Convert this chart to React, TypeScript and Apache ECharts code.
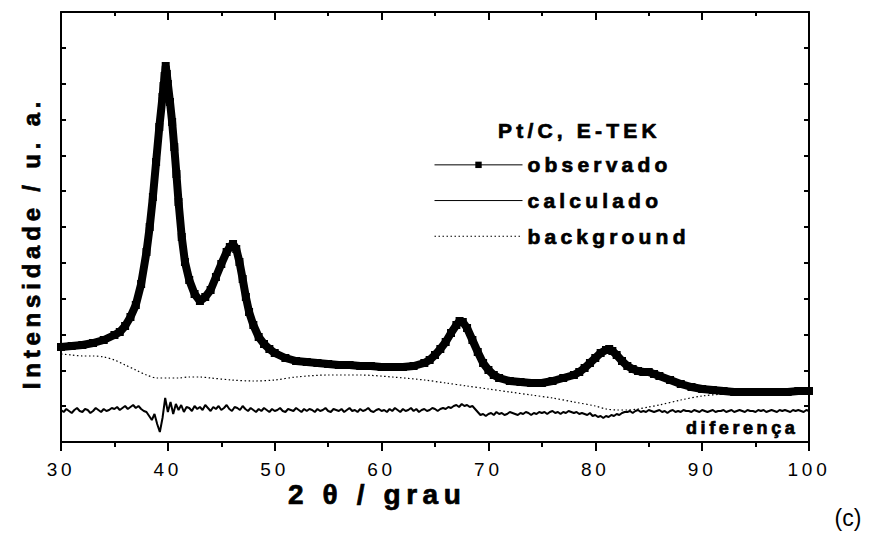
import React, { useEffect, useRef } from "react";
import * as echarts from "echarts";

// 2θ (degrees) and intensity (arbitrary units)
const observedTheta = [
  30, 31, 32, 33, 34, 35, 35.5, 36, 36.5, 37, 37.5, 38, 38.3, 38.6, 38.9, 39.2, 39.5, 39.6, 39.7, 39.8,
  39.9, 40, 40.2, 40.4, 40.6, 40.8, 41, 41.3, 41.6, 42, 42.5, 43, 43.5, 44, 44.5, 45, 45.5, 45.8, 46.1,
  46.4, 46.7, 47, 47.3, 47.6, 48, 48.5, 49, 49.5, 50, 51, 52, 53, 54, 55, 56, 57, 58, 59, 60, 61, 62, 63,
  64, 64.5, 65, 65.5, 66, 66.5, 67, 67.3, 67.6, 68, 68.5, 69, 69.5, 70, 70.5, 71, 72, 73, 74, 75, 76, 77,
  78, 78.5, 79, 79.5, 80, 80.5, 81, 81.3, 81.6, 82, 82.5, 83, 83.5, 84, 84.5, 85, 85.5, 86, 87, 88, 89,
  90, 91, 92, 93, 94, 95, 96, 97, 98, 99, 100,
];
const observedIntensity = [
  95, 96, 97, 99, 102, 107, 110, 116, 125, 137, 158, 190, 215, 245, 280, 315, 345, 356, 366, 376,
  368, 358, 340, 320, 295, 268, 240, 205, 180, 162, 148, 141, 145, 152, 165, 178, 190, 195, 198,
  193, 180, 163, 145, 130, 117, 105, 98, 93, 89, 84, 81, 80, 79, 78, 77, 77, 76, 76, 75, 75, 75, 76,
  79, 82, 87, 93, 100, 109, 117, 121, 120, 114, 102, 90, 79, 72, 67, 64, 61, 60, 59, 59, 61, 64,
  67, 70, 74, 79, 84, 89, 92, 93, 91, 87, 81, 76, 73, 71, 70, 70, 68, 66, 62, 58, 55,
  53, 52, 51, 50, 50, 50, 50, 50, 50, 51, 51,
];
// the fitted (calculated) profile coincides with the observed points in the picture
const calculatedIntensity = [
  95, 96, 97, 99, 102, 107, 110, 116, 125, 137, 158, 190, 215, 245, 280, 315, 345, 356, 366, 374,
  368, 358, 340, 320, 295, 268, 240, 205, 180, 162, 148, 141, 145, 152, 165, 178, 190, 195, 197,
  193, 180, 163, 145, 130, 117, 105, 98, 93, 89, 84, 81, 80, 79, 78, 77, 77, 76, 76, 75, 75, 75, 76,
  79, 82, 87, 93, 100, 109, 117, 120, 119, 114, 102, 90, 79, 72, 67, 64, 61, 60, 59, 59, 61, 64,
  67, 70, 74, 79, 84, 89, 92, 92, 91, 87, 81, 76, 73, 71, 70, 70, 68, 66, 62, 58, 55,
  53, 52, 51, 50, 50, 50, 50, 50, 50, 51, 51,
];
const backgroundTheta = [
  30, 31, 32, 33, 34, 35, 36, 37, 38, 39, 40, 41, 42, 43, 44, 46, 48, 50, 52, 55, 58, 61, 64, 66, 68,
  70, 72, 74, 76, 78, 80, 81, 82, 83, 84, 85, 86, 88, 90, 92, 94, 96, 98, 100,
];
const backgroundIntensity = [
  88, 87, 86, 86, 85, 82, 77, 72, 67, 64, 64, 64, 65, 65, 64, 62, 61, 62, 65, 67, 67, 65, 62, 59, 56,
  53, 50, 47, 44, 40, 36, 33, 32, 32, 33, 35, 37, 42, 46, 48, 49, 49, 49, 49,
];
// difference curve, sampled every 0.25° from 30° to 100°
const diffStart = 30;
const diffStep = 0.25;
const differenceIntensity = [
  32, 30, 33, 31, 29, 32, 34, 31, 30, 33, 32, 29, 31, 34, 32, 30, 33, 31, 32, 34,
  33, 35, 32, 34, 36, 33, 35, 37, 34, 36, 33, 31,
  30, 26, 22, 28,
  18, 10, 24, 44,
  30, 40, 28, 38,
  32, 37, 30, 35,
  34, 31, 36, 33, 35, 32, 37, 34, 31, 35, 33, 36, 32, 34, 37, 33, 31, 35, 34, 32, 36, 33, 31, 34,
  32, 30, 33, 31, 34, 32, 30, 33, 31, 32, 34, 31, 30, 33, 32, 31, 34, 32, 30, 33, 31, 33, 32, 30,
  33, 31, 32, 34, 31, 30, 33, 32, 31, 33, 30, 32, 34, 31, 32, 30, 33, 31, 32, 34, 31, 30, 32, 33,
  31, 32, 30, 33, 31, 34, 32, 30, 33, 31, 32, 34, 31, 33, 30, 32, 33, 31, 32, 34, 33, 31, 33, 34,
  33, 35, 34, 36, 37, 35, 38, 36, 37, 35, 36, 33,
  30, 27, 28, 26,
  28, 29, 27, 30, 28, 29, 27, 28, 30, 29, 28, 27, 29, 28, 30, 29, 27, 29, 28, 30,
  29, 30, 28, 30, 31, 29, 30, 28, 30, 29, 31, 30, 29, 30, 28, 29,
  28, 27, 29, 26, 27, 25, 26, 24, 26, 25, 27, 26, 28, 27, 29, 30,
  30, 31, 29, 31, 32, 30, 31, 30, 32, 31, 30, 31, 32, 30, 31, 29,
  31, 32, 30, 31, 30, 32, 31, 31, 30, 32, 31, 30, 32, 31, 30, 31,
  32, 30, 31, 31, 32, 30, 31, 32, 30, 31, 32, 31, 30, 32, 31, 31,
  30, 32, 31, 32, 30, 31, 32, 31, 30, 32, 31, 32, 31, 30, 32, 31,
  32, 31, 30, 32,
  31,
];

const seriesNames = ["observado", "calculado", "background"];
const legendTitle = "Pt/C, E-TEK";
const xTitle = "2 θ / grau";
const yTitle = "Intensidade / u. a.";
const diffLabel = "diferença";
const panelLabel = "(c)";

const FONT = "Arial, Liberation Sans, Helvetica, sans-serif";

export default function App() {
  const ref = useRef<HTMLDivElement>(null);

  useEffect(() => {
    if (!ref.current) return;
    const chart = echarts.init(ref.current, undefined, { renderer: "svg" });

    const obs = observedTheta.map((t, i) => [t, observedIntensity[i]]);
    const calc = observedTheta.map((t, i) => [t, calculatedIntensity[i]]);
    const bg = backgroundTheta.map((t, i) => [t, backgroundIntensity[i]]);
    const diff = differenceIntensity.map((v, i) => [diffStart + i * diffStep, v]);

    const yMax = 430;
    const yInterval = yMax / 12;

    const tickStyle = { color: "#000", width: 2 };
    const boldText = { fill: "#000", stroke: "#000", lineWidth: 0.7 };

    chart.setOption({
      animation: false,
      backgroundColor: "#fff",
      grid: { left: 61, right: 73, top: 12, bottom: 94, containLabel: false, outerBoundsMode: "none" },
      xAxis: [
        {
          type: "value",
          position: "bottom",
          min: 30,
          max: 100,
          interval: 10,
          axisLine: { show: true, onZero: false, lineStyle: { color: "#000", width: 2 } },
          axisTick: { show: true, inside: false, length: 9, lineStyle: tickStyle },
          minorTick: { show: true, splitNumber: 2, length: 5, lineStyle: tickStyle },
          axisLabel: { color: "#000", fontSize: 19, fontFamily: FONT, margin: 18 },
          splitLine: { show: false },
          minorSplitLine: { show: false },
        },
        {
          type: "value",
          position: "top",
          min: 30,
          max: 100,
          interval: 10,
          axisLine: { show: true, onZero: false, lineStyle: { color: "#000", width: 2 } },
          axisTick: { show: true, inside: true, length: 8, lineStyle: tickStyle },
          minorTick: { show: true, splitNumber: 2, length: 4, lineStyle: tickStyle },
          axisLabel: { show: false },
          splitLine: { show: false },
        },
      ],
      yAxis: [
        {
          type: "value",
          position: "left",
          min: 0,
          max: yMax,
          interval: yInterval,
          axisLine: { show: true, onZero: false, lineStyle: { color: "#000", width: 2 } },
          axisTick: { show: true, inside: true, length: 5, lineStyle: tickStyle },
          axisLabel: { show: false },
          splitLine: { show: false },
        },
        {
          type: "value",
          position: "right",
          min: 0,
          max: yMax,
          interval: yInterval,
          axisLine: { show: true, onZero: false, lineStyle: { color: "#000", width: 2 } },
          axisTick: { show: true, inside: true, length: 5, lineStyle: tickStyle },
          axisLabel: { show: false },
          splitLine: { show: false },
        },
      ],
      legend: {
        data: [
          { name: seriesNames[0] },
          { name: seriesNames[1], itemStyle: { opacity: 0 } },
          { name: seriesNames[2], itemStyle: { opacity: 0 } },
        ],
        orient: "vertical",
        left: 434,
        top: 154,
        padding: 0,
        itemWidth: 88,
        itemHeight: 8,
        itemGap: 14,
        selectedMode: false,
        textStyle: {
          color: "#000",
          fontFamily: FONT,
          fontWeight: "bold",
          fontSize: 21,
          textBorderColor: "#000",
          textBorderWidth: 0.7,
        },
        lineStyle: { width: 1 },
      },
      series: [
        {
          name: "background",
          type: "line",
          data: bg,
          smooth: 0.3,
          symbol: "none",
          lineStyle: { color: "#000", width: 1.2, type: [1.5, 2.5] },
          itemStyle: { color: "#000" },
          z: 2,
        },
        {
          name: "diferença",
          type: "line",
          data: diff,
          symbol: "none",
          lineStyle: { color: "#000", width: 2 },
          z: 2,
        },
        {
          name: "observado",
          type: "line",
          data: obs,
          symbol: "rect",
          symbolSize: 8,
          showSymbol: true,
          showAllSymbol: true,
          clip: false,
          lineStyle: { color: "#000", width: 8 },
          itemStyle: { color: "#000" },
          z: 3,
        },
        {
          name: "calculado",
          type: "line",
          data: calc,
          symbol: "none",
          lineStyle: { color: "#000", width: 1 },
          itemStyle: { color: "#000" },
          z: 4,
        },
      ],
      graphic: [
        {
          type: "text",
          x: 498,
          y: 130,
          style: {
            text: legendTitle,
            font: `bold 21px ${FONT}`,
            ...boldText,
            textAlign: "left",
            textVerticalAlign: "middle",
          },
        },
        {
          type: "text",
          x: 686,
          y: 428,
          style: {
            text: diffLabel,
            font: `bold 18px ${FONT}`,
            ...boldText,
            textAlign: "left",
            textVerticalAlign: "middle",
          },
        },
        {
          type: "text",
          x: 288,
          y: 494,
          style: {
            text: xTitle,
            font: `bold 28px ${FONT}`,
            ...boldText,
            textAlign: "left",
            textVerticalAlign: "middle",
          },
        },
        {
          type: "text",
          x: 31,
          y: 243,
          rotation: Math.PI / 2,
          style: {
            text: yTitle,
            font: `bold 24px ${FONT}`,
            ...boldText,
            textAlign: "center",
            textVerticalAlign: "middle",
          },
        },
        {
          type: "text",
          x: 848,
          y: 518,
          style: {
            text: panelLabel,
            font: `23px ${FONT}`,
            fill: "#000",
            textAlign: "center",
            textVerticalAlign: "middle",
          },
        },
      ],
    });

    return () => chart.dispose();
  }, []);

  return (
    <>
      <style>{`.xrd-chart text { letter-spacing: 0.2em; } .xrd-chart text[style*="23px"] { letter-spacing: 0; }`}</style>
      <div
        ref={ref}
        className="xrd-chart"
        style={{ position: "fixed", left: 0, top: 0, width: 882, height: 536, background: "#fff" }}
      />
    </>
  );
}
